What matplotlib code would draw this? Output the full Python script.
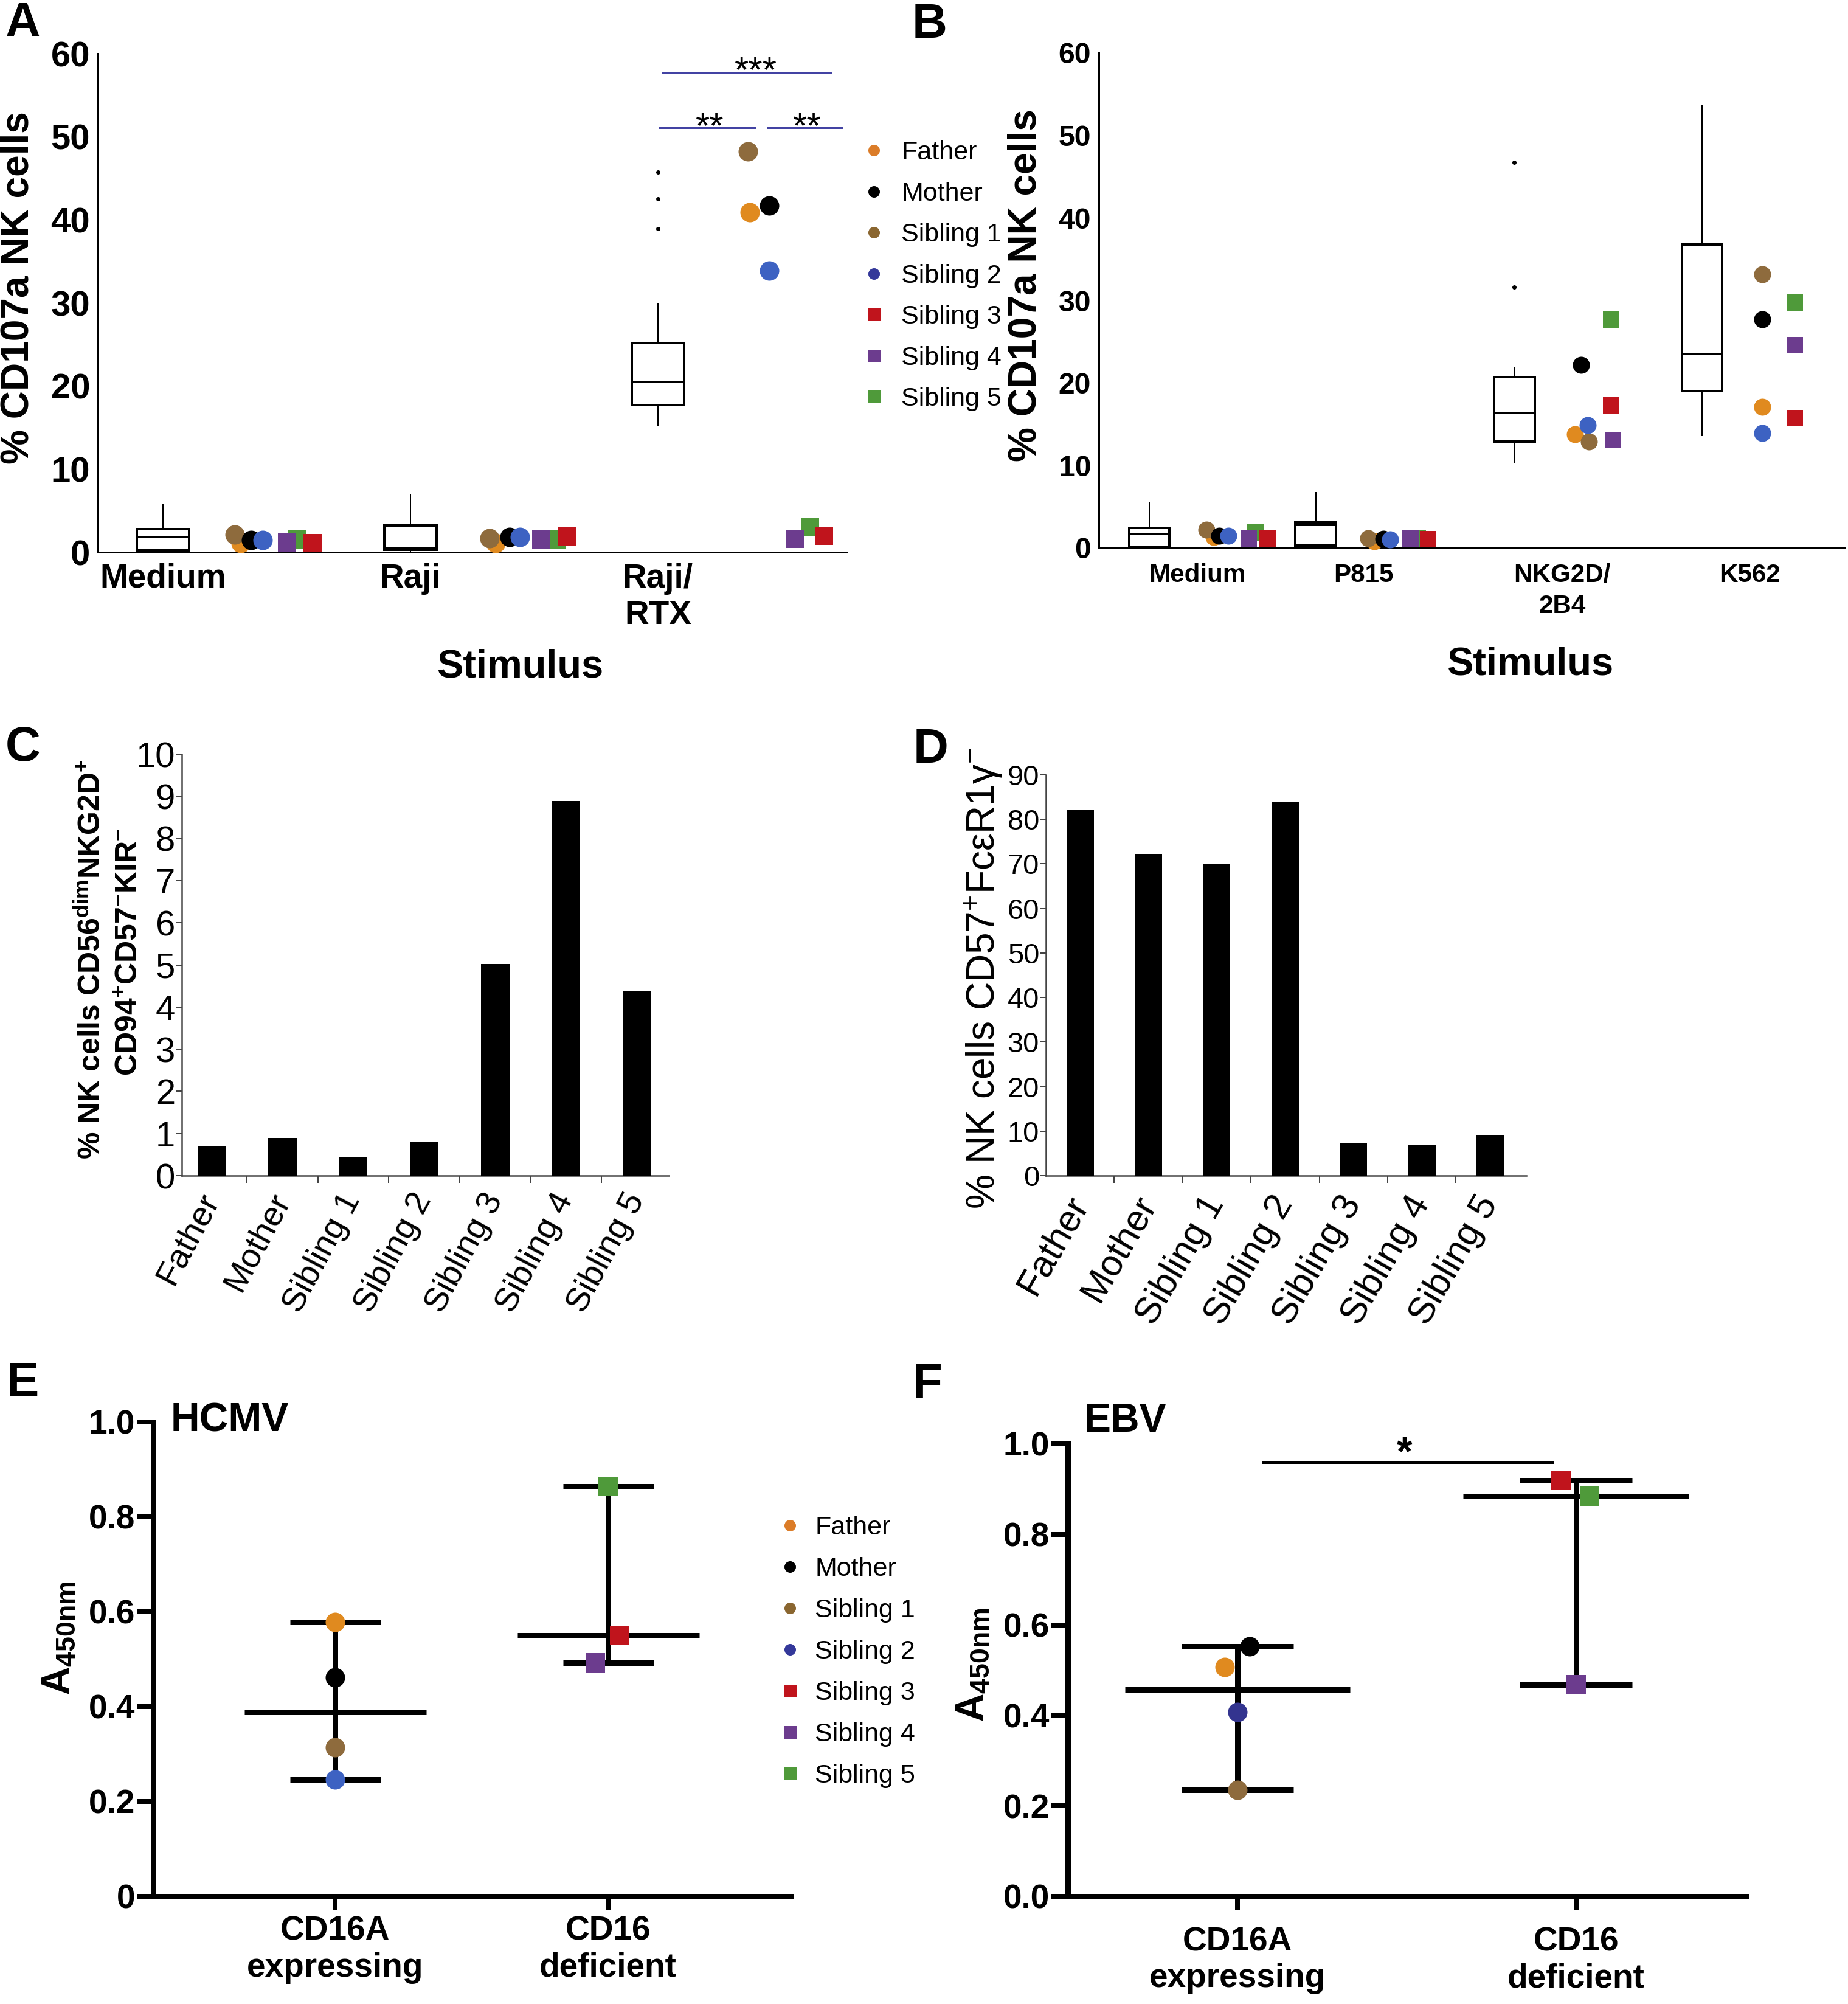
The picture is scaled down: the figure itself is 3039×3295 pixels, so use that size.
import numpy as np
import matplotlib
matplotlib.use('Agg')
import matplotlib.pyplot as plt
from matplotlib import font_manager
from matplotlib.lines import Line2D

# output is 3039 x 3295 px, drawn at 72 dpi so 1 pt == 1 px
W, H = 3039, 3295

installed = {f.name for f in font_manager.fontManager.ttflist}
SANS = 'Liberation Sans' if 'Liberation Sans' in installed else 'DejaVu Sans'
NARROW = 'Liberation Sans Narrow' if 'Liberation Sans Narrow' in installed else SANS
NSCALE = 1.0 if NARROW != SANS else 0.86   # shrink text a bit if no narrow face

plt.rcParams['font.family'] = [SANS, 'DejaVu Sans']
plt.rcParams['mathtext.fontset'] = 'custom'
plt.rcParams['mathtext.rm'] = SANS
plt.rcParams['mathtext.it'] = SANS + ':italic'
plt.rcParams['mathtext.bf'] = SANS + ':bold'

# ---------------- individuals ----------------
people = ['Father', 'Mother', 'Sibling 1', 'Sibling 2', 'Sibling 3', 'Sibling 4', 'Sibling 5']
person_colors = ['#e08a1f', '#000000', '#8e6b3d', '#3d62c2', '#c0141c', '#6c3c8e', '#4f9a3a']
legend_colors = ['#db7c28', '#000000', '#8a6630', '#34389a', '#c0141c', '#6c3c8e', '#4f9a3a']
f_sib2_color = '#33348f'
person_markers = ['o', 'o', 'o', 'o', 's', 's', 's']
draw_order = [0, 2, 1, 3, 6, 5, 4]

# ---------------- panel A ----------------
a_stimuli = ['Medium', 'Raji', 'Raji/\nRTX']
a_whislo = [0.0, 0.0, 15.2]
a_q1 = [0.25, 0.3, 17.7]
a_med = [1.9, 0.5, 20.5]
a_q3 = [2.8, 3.2, 25.2]
a_whishi = [5.7, 6.85, 29.9]
a_fliers = [[], [], [38.9, 42.5, 45.7]]
a_family = [
    [1.1, 1.5, 2.1, 1.45, 1.1, 1.2, 1.55],
    [1.1, 1.85, 1.7, 1.85, 1.9, 1.55, 1.55],
    [40.9, 41.7, 48.2, 33.9, 2.0, 1.6, 3.1],
]

# ---------------- panel B ----------------
b_stimuli = ['Medium', 'P815', 'NKG2D/\n2B4', 'K562']
b_whislo = [0.0, 0.0, 10.4, 13.6]
b_q1 = [0.15, 0.3, 12.9, 19.0]
b_med = [1.7, 2.8, 16.4, 23.5]
b_q3 = [2.45, 3.1, 20.7, 36.8]
b_whishi = [5.5, 6.7, 21.9, 53.6]
b_fliers = [[], [], [31.6, 46.7], []]
b_family = [
    [1.3, 1.5, 2.2, 1.5, 1.2, 1.2, 1.9],
    [0.8, 1.1, 1.2, 1.0, 1.1, 1.2, 1.2],
    [13.8, 22.2, 12.9, 14.9, 17.3, 13.1, 27.7],
    [17.1, 27.7, 33.2, 13.9, 15.8, 24.6, 29.8],
]

# ---------------- panels C, D ----------------
c_values = [0.70, 0.89, 0.43, 0.80, 5.02, 8.89, 4.37]
d_values = [82.2, 72.2, 70.1, 83.9, 7.3, 6.8, 9.0]

# ---------------- panels E, F ----------------
ef_groups = ['CD16A\nexpressing', 'CD16\ndeficient']
ef_members = [[0, 1, 2, 3], [4, 5, 6]]
e_values = [[0.578, 0.462, 0.314, 0.246], [0.550, 0.492, 0.864]]
f_values = [[0.507, 0.553, 0.235, 0.407], [0.920, 0.468, 0.885]]

# ---------------- layout (offsets of the single dots) ----------------
A_OFFSETS = [[0.314, 0.356, 0.290, 0.403, 0.604, 0.501, 0.543],
             [0.344, 0.400, 0.319, 0.442, 0.631, 0.528, 0.592],
             [0.371, 0.450, 0.364, 0.450, 0.671, 0.553, 0.614]]
B_TICKS = [0, 0.904, 1.983, 3.003]
B_OFFSETS = [[0.089, 0.119, 0.050, 0.168, 0.380, 0.277, 0.314],
             [0.059, 0.106, 0.026, 0.145, 0.350, 0.254, 0.294],
             [0.069, 0.102, 0.145, 0.139, 0.264, 0.274, 0.264],
             [0.066, 0.066, 0.066, 0.066, 0.244, 0.244, 0.244]]
E_OFFSETS = [[0, 0, 0, 0], [0.043, -0.048, 0]]
F_OFFSETS = [[-0.038, 0.036, 0, 0], [-0.045, 0, 0.040]]
SIG_BLUE = '#4343a3'

fig = plt.figure(figsize=(W / 72, H / 72), dpi=72)


def px_axes(l, t, r, b):
    return fig.add_axes([l / W, 1 - b / H, (r - l) / W, (b - t) / H])


def ftext(x, y, s, **kw):
    return fig.text(x / W, 1 - y / H, s, **kw)


def box_stats(lo, q1, med, q3, hi, fl):
    return [dict(whislo=a, q1=b, med=c, q3=d, whishi=e, fliers=f)
            for a, b, c, d, e, f in zip(lo, q1, med, q3, hi, fl)]


def draw_boxes(ax, stats, positions, width):
    ax.bxp(stats, positions=positions, widths=width, showcaps=False,
           patch_artist=True, manage_ticks=False,
           boxprops=dict(facecolor='white', edgecolor='black', linewidth=4),
           medianprops=dict(color='black', linewidth=3),
           whiskerprops=dict(color='black', linewidth=2),
           flierprops=dict(marker='o', markersize=7, markerfacecolor='black',
                           markeredgecolor='none'))


def draw_family(ax, base, offsets, values, ms_circle, ms_square):
    for k in draw_order:
        ms = ms_circle if person_markers[k] == 'o' else ms_square
        ax.plot(base + offsets[k], values[k], marker=person_markers[k], ls='none',
                color=person_colors[k], ms=ms, mew=0, clip_on=False, zorder=4)


def draw_legend(x_m, x_t, y0, dy, fs):
    for i, name in enumerate(people):
        y = y0 + i * dy
        ms = 19 if person_markers[i] == 'o' else 21
        fig.add_artist(Line2D([x_m / W], [1 - y / H], transform=fig.transFigure,
                              marker=person_markers[i], ls='none', ms=ms, mew=0,
                              color=legend_colors[i]))
        ftext(x_t, y + 0.36 * fs, name, fontsize=fs, family=NARROW,
              ha='left', va='baseline')


def thin_spines(ax, lw=3, color='black'):
    for s in ['top', 'right']:
        ax.spines[s].set_visible(False)
    for s in ['left', 'bottom']:
        ax.spines[s].set_linewidth(lw)
        ax.spines[s].set_color(color)


# ======================= A =======================
axA = px_axes(160, 88, 1392, 908)
draw_boxes(axA, box_stats(a_whislo, a_q1, a_med, a_q3, a_whishi, a_fliers), [0, 1, 2], 0.21)
for g in range(3):
    draw_family(axA, g, A_OFFSETS[g], a_family[g], 32, 30)
axA.plot([2.017, 2.700], [57.7, 57.7], color=SIG_BLUE, lw=3, clip_on=False)
axA.plot([2.007, 2.391], [51.1, 51.1], color=SIG_BLUE, lw=3, clip_on=False)
axA.plot([2.442, 2.742], [51.1, 51.1], color=SIG_BLUE, lw=3, clip_on=False)
axA.text(2.393, 56.6, '***', ha='center', va='baseline', fontsize=60)
axA.text(2.209, 49.9, '**', ha='center', va='baseline', fontsize=60)
axA.text(2.602, 49.9, '**', ha='center', va='baseline', fontsize=60)
axA.set_xlim(-0.265, 2.762)
axA.set_ylim(0, 60)
axA.set_yticks(range(0, 61, 10))
axA.set_xticks([0, 1, 2])
axA.set_xticklabels(a_stimuli)
thin_spines(axA)
axA.tick_params(axis='y', length=0, pad=12, labelsize=58)
axA.tick_params(axis='x', length=0, pad=18, labelsize=55)
for lbl in axA.get_xticklabels() + axA.get_yticklabels():
    lbl.set_fontweight('bold')
ftext(30, 473, '% CD107a NK cells', rotation=90, fontsize=64, fontweight='bold',
      ha='center', va='center')
ftext(855, 1097, 'Stimulus', fontsize=65, fontweight='bold', ha='center', va='center')
draw_legend(1437, 1482, 247, 67.5, 50 * NSCALE)

# ======================= B =======================
axB = px_axes(1807, 87, 3034, 901)
draw_boxes(axB, box_stats(b_whislo, b_q1, b_med, b_q3, b_whishi, b_fliers),
           [p - 0.26 for p in B_TICKS], 0.22)
for g in range(4):
    draw_family(axB, B_TICKS[g], B_OFFSETS[g], b_family[g], 28, 27)
axB.set_xlim(-0.535, 3.52)
axB.set_ylim(0, 60)
axB.set_yticks(range(0, 61, 10))
axB.set_xticks(B_TICKS)
axB.set_xticklabels(b_stimuli)
thin_spines(axB)
axB.tick_params(axis='y', length=0, pad=13, labelsize=56 * NSCALE)
axB.tick_params(axis='x', length=0, pad=25, labelsize=49 * NSCALE)
for lbl in axB.get_xticklabels() + axB.get_yticklabels():
    lbl.set_fontweight('bold')
    lbl.set_family(NARROW)
    lbl.set_linespacing(1.35)
ftext(1686, 469, '% CD107a NK cells', rotation=90, fontsize=64, fontweight='bold',
      ha='center', va='center')
ftext(2516, 1093, 'Stimulus', fontsize=65, fontweight='bold', ha='center', va='center')


# ======================= C / D =======================
def bar_panel(ax, values, xlim, ymax, ystep, tick_fs, rot, lab_fs, lab_pad):
    ax.bar(range(len(values)), values, width=0.4, color='black', zorder=3)
    ax.set_xlim(*xlim)
    ax.set_ylim(0, ymax)
    ax.set_yticks(np.arange(0, ymax + 0.1, ystep))
    ax.set_xticks(range(len(people)))
    ax.set_xticklabels(people, rotation=rot, ha='right', va='center',
                       rotation_mode='anchor')
    ax.set_xticks(np.arange(0.5, len(people) - 1, 1.0), minor=True)
    thin_spines(ax, lw=2.5, color='#444444')
    ax.tick_params(axis='y', direction='out', length=9, width=2, color='#444444',
                   pad=2, labelsize=tick_fs)
    ax.tick_params(axis='x', which='major', length=0, pad=lab_pad, labelsize=lab_fs)
    ax.tick_params(axis='x', which='minor', direction='out', length=12, width=2,
                   color='#444444')


axC = px_axes(299, 1240, 1100, 1933)
bar_panel(axC, c_values, (-0.42, 6.45), 10, 1, 58, 62, 56, 32)
ftext(150, 1577, r'% NK cells CD56$^{\mathbf{dim}}$NKG2D$^{\mathbf{+}}$', rotation=90,
      fontsize=50, fontweight='bold', ha='center', va='center')
ftext(213, 1565, r'CD94$^{\mathbf{+}}$CD57$^{\mathbf{-}}$KIR$^{\mathbf{-}}$', rotation=90,
      fontsize=50, fontweight='bold', ha='center', va='center')

axD = px_axes(1720, 1274, 2510, 1933)
bar_panel(axD, d_values, (-0.5, 6.53), 90, 10, 47, 60, 61, 38)
ftext(1617, 1609, r'% NK cells CD57$^{+}$FcεR1γ$^{-}$', rotation=90,
      fontsize=64, ha='center', va='center')


# ======================= E / F =======================
def range_panel(ax, values, offsets, xlim, zero_label, xpad, f_panel=False):
    for g, members in enumerate(ef_members):
        vals = values[g]
        med, lo, hi = np.median(vals), min(vals), max(vals)
        ax.hlines(med, g - 0.333, g + 0.333, color='black', lw=9, zorder=2)
        ax.hlines([lo, hi], g - 0.166, g + 0.166, color='black', lw=9, zorder=2)
        ax.vlines(g, lo, hi, color='black', lw=9, zorder=2)
        for j, k in enumerate(members):
            color = person_colors[k]
            if f_panel and k == 3:
                color = f_sib2_color
            ax.plot(g + offsets[g][j], vals[j], marker=person_markers[k], ls='none',
                    color=color, ms=32, mew=0, zorder=4, clip_on=False)
    ax.set_xlim(*xlim)
    ax.set_ylim(0, 1.0)
    ax.set_yticks([0, 0.2, 0.4, 0.6, 0.8, 1.0])
    ax.set_yticklabels([zero_label, '0.2', '0.4', '0.6', '0.8', '1.0'])
    ax.set_xticks([0, 1])
    ax.set_xticklabels(ef_groups)
    for s in ['top', 'right']:
        ax.spines[s].set_visible(False)
    for s in ['left', 'bottom']:
        ax.spines[s].set_linewidth(9)
        ax.spines[s].set_capstyle('projecting')
    ax.tick_params(axis='y', direction='out', length=27, width=8, pad=3, labelsize=55)
    ax.tick_params(axis='x', direction='out', length=22, width=8, pad=xpad, labelsize=55)
    for lbl in ax.get_xticklabels() + ax.get_yticklabels():
        lbl.set_fontweight('bold')


axE = px_axes(252, 2338, 1301, 3118)
range_panel(axE, e_values, E_OFFSETS, (-0.666, 1.670), '0', 10)
ftext(281, 2354, 'HCMV', fontsize=66, fontweight='bold', ha='left', va='baseline')
ftext(97, 2693, r'$\mathbf{A}_{\mathbf{450nm}}$', rotation=90, fontsize=64,
      ha='center', va='center')
draw_legend(1299, 1340, 2508, 68, 50 * NSCALE)

axF = px_axes(1756, 2374, 2872, 3118)
range_panel(axF, f_values, F_OFFSETS, (-0.501, 1.503), '0.0', 27, f_panel=True)
axF.plot([0.075, 0.928], [0.96, 0.96], color='black', lw=5, clip_on=False)
axF.text(0.493, 0.954, '*', ha='center', va='baseline', fontsize=66, fontweight='bold')
ftext(1783, 2354, 'EBV', fontsize=66, fontweight='bold', ha='left', va='baseline')
ftext(1600, 2737, r'$\mathbf{A}_{\mathbf{450nm}}$', rotation=90, fontsize=64,
      ha='center', va='center')

# panel letters
for letter, (x, y) in zip('ABCDEF', [(38, 40), (1529, 42), (38, 1230),
                                     (1531, 1233), (37, 2276), (1525, 2278)]):
    ftext(x, y, letter, fontsize=80, fontweight='bold', ha='center', va='center')

fig.savefig('out.png', dpi=72, facecolor='white')
